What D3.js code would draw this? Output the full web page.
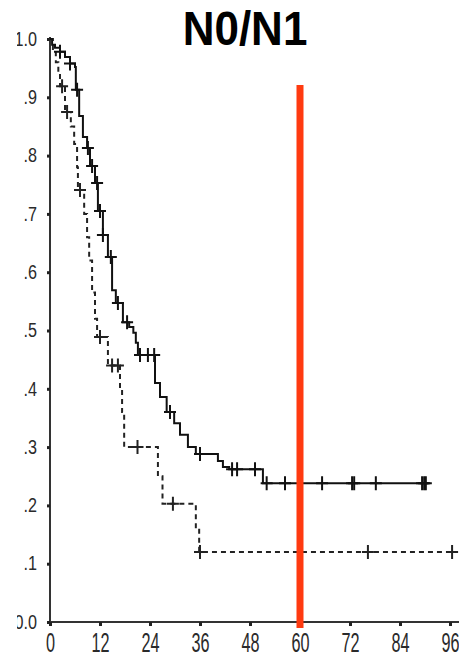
<!DOCTYPE html>
<html><head><meta charset="utf-8">
<script src="https://cdn.jsdelivr.net/npm/d3@7"></script>
<style>
html,body{margin:0;padding:0;background:#fff;}
svg{display:block;}
</style></head>
<body>
<div id="chart"></div>
<script>
// ---- data ----
const title = "N0/N1";
const monthTicks = [0,12,24,36,48,60,72,84,96];
const survTicks = [0,0.1,0.2,0.3,0.4,0.5,0.6,0.7,0.8,0.9,1.0];
const survTickLabels = ["0.0",".1",".2",".3",".4",".5",".6",".7",".8",".9","1.0"];
const cutoffMonth = 60;

// solid curve (step function: time of drop, survival after drop)
const solidTimes = [0,0.5,1.2,2.4,3.6,4.8,6.0,6.2,7.0,7.9,8.9,9.6,10.8,11.5,12.7,13.9,14.9,15.8,17.5,19.0,20.0,20.6,21.1,25.2,26.4,28.0,29.8,31.2,33.1,35.0,40.3,41.5,43.0,51.1,91.0];
const solidSurv  = [1.0,0.99,0.985,0.978,0.969,0.958,0.952,0.913,0.868,0.832,0.813,0.782,0.753,0.705,0.664,0.626,0.569,0.547,0.514,0.506,0.496,0.479,0.458,0.41,0.386,0.36,0.341,0.321,0.30,0.288,0.276,0.266,0.262,0.238,0.238];
const solidCensor = [2.4,4.8,6.5,9.1,10.1,11.3,12.0,12.7,14.6,16.3,18.5,21.6,23.5,25.0,28.8,36.0,43.7,44.9,49.2,52.0,56.4,65.3,72.5,73.0,78.2,89.3,89.8,90.2];

// dashed curve
const dashedTimes = [0,0.7,1.4,2.0,2.4,3.6,5.0,5.8,6.5,6.7,8.2,8.9,9.4,10.1,10.8,11.3,13.9,16.8,17.3,17.8,25.9,27.0,35.0,35.8,96.5];
const dashedSurv  = [1.0,0.98,0.96,0.94,0.919,0.875,0.85,0.82,0.78,0.741,0.70,0.66,0.62,0.565,0.52,0.489,0.44,0.40,0.36,0.30,0.25,0.203,0.16,0.12,0.12];
const dashedCensor = [2.9,4.1,7.2,12.0,14.9,16.3,21.0,29.5,36.0,76.3,96.5];

// ---- drawing ----
const W = 459, H = 657;
const svg = d3.select("#chart").append("svg").attr("width", W).attr("height", H);

const x = d3.scaleLinear().domain([0,96]).range([50,450]);
const y = d3.scaleLinear().domain([0,1]).range([622,39]);

// title
svg.append("text").attr("transform","translate(245,45) scale(1,1.1)")
  .attr("text-anchor","middle")
  .style("font-family","'Liberation Sans', Arial, sans-serif")
  .style("font-weight","bold").style("font-size","44px").attr("fill","#000")
  .text(title);

const labelFont = "'Liberation Sans', Arial, sans-serif";

// x axis
const xAxis = svg.append("g").attr("transform","translate(0,622)")
  .call(d3.axisBottom(x).tickValues(monthTicks).tickSize(4).tickPadding(8).tickFormat(d3.format("d")));
xAxis.select(".domain").attr("d","M50,0H459").attr("stroke","#333").attr("stroke-width",2);
xAxis.selectAll(".tick line").attr("stroke","#222").attr("stroke-width",3);
xAxis.selectAll(".tick text").attr("fill","#2a2a2a")
  .attr("y",30).attr("dy",null).attr("transform","scale(0.58,1)")
  .style("font-family",labelFont).style("font-size","28px");

// y axis
const yAxis = svg.append("g").attr("transform","translate(50,0)")
  .call(d3.axisLeft(y).tickValues(survTicks).tickSize(3).tickPadding(10)
    .tickFormat((d,i)=>survTickLabels[i]));
yAxis.select(".domain").attr("d","M0,37V622").attr("stroke","#333").attr("stroke-width",2);
yAxis.selectAll(".tick line").attr("stroke","#222").attr("stroke-width",3);
yAxis.selectAll(".tick text").attr("fill","#2a2a2a")
  .attr("x",-13/0.83).attr("transform","scale(0.83,1)")
  .style("font-family",labelFont).style("font-size","19.5px");

// left crop of the picture
svg.append("rect").attr("x",0).attr("y",0).attr("width",17).attr("height",H).attr("fill","#fff");

const step = d3.line().x(d=>x(d[0])).y(d=>y(d[1])).curve(d3.curveStepAfter);

function survAt(times, surv, t){
  let s = surv[0];
  for (let i=0;i<times.length;i++){ if (times[i] <= t) s = surv[i]; }
  return s;
}

// dashed curve
const dashedData = dashedTimes.map((t,i)=>[t,dashedSurv[i]]);
svg.append("path").attr("d", step(dashedData)).attr("fill","none")
  .attr("stroke","#222").attr("stroke-width",2).attr("stroke-dasharray","5,4");
svg.append("g").selectAll("path").data(dashedCensor).join("path")
  .attr("d", t=>{const cx=x(t), cy=y(survAt(dashedTimes,dashedSurv,t));
     return `M${cx-6},${cy}H${cx+6}M${cx},${cy-7}V${cy+7}`;})
  .attr("stroke","#222").attr("stroke-width",2).attr("fill","none");

// solid curve
const solidData = solidTimes.map((t,i)=>[t,solidSurv[i]]);
svg.append("path").attr("d", step(solidData)).attr("fill","none")
  .attr("stroke","#111").attr("stroke-width",2);
svg.append("g").selectAll("path").data(solidCensor).join("path")
  .attr("d", t=>{const cx=x(t), cy=y(survAt(solidTimes,solidSurv,t));
     return `M${cx-6},${cy}H${cx+6}M${cx},${cy-7}V${cy+7}`;})
  .attr("stroke","#111").attr("stroke-width",2).attr("fill","none");

// red cutoff line
svg.append("line").attr("x1",x(cutoffMonth)).attr("x2",x(cutoffMonth))
  .attr("y1",85).attr("y2",628).attr("stroke","#ff3a10").attr("stroke-width",7);
</script>
</body></html>
